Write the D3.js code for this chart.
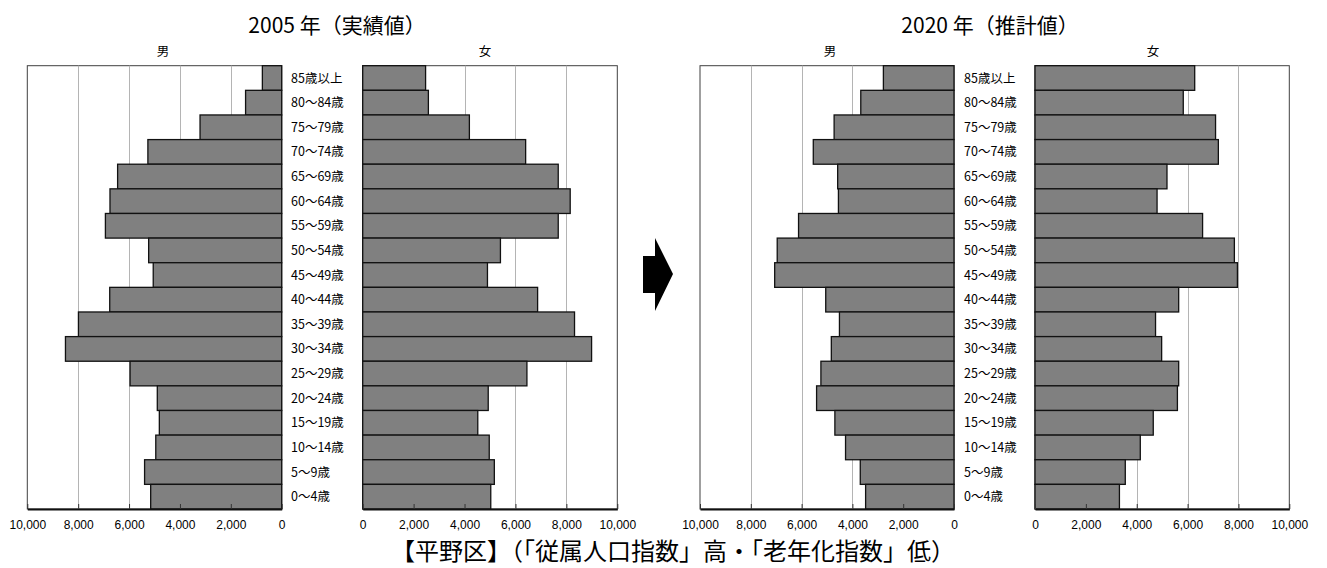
<!DOCTYPE html>
<html>
<head>
<meta charset="utf-8">
<script src="https://cdn.jsdelivr.net/npm/d3@7"></script>
<style>
  html, body { margin: 0; padding: 0; background: #fff; }
  svg { display: block; }
  text { font-family: "Noto Sans CJK JP", "Noto Sans", sans-serif; fill: #000; }
</style>
</head>
<body>
<svg id="chart" width="1327" height="568"></svg>
<script>
// Age groups, oldest at the top
const ageGroups = ["85歳以上","80～84歳","75～79歳","70～74歳","65～69歳","60～64歳",
  "55～59歳","50～54歳","45～49歳","40～44歳","35～39歳","30～34歳","25～29歳",
  "20～24歳","15～19歳","10～14歳","5～9歳","0～4歳"];

// 2005 actual population (persons)
const male2005   = [760,1420,3210,5260,6450,6750,6930,5230,5050,6760,7990,8500,5960,4890,4810,4950,5390,5150];
const female2005 = [2470,2580,4190,6400,7680,8150,7680,5410,4900,6870,8320,8990,6450,4930,4520,4970,5170,5030];

// 2020 projected population (persons)
const male2020   = [2780,3670,4720,5540,4580,4550,6120,6960,7060,5050,4510,4830,5240,5410,4690,4270,3690,3480];
const female2020 = [6280,5830,7100,7210,5190,4800,6590,7840,7960,5650,4740,4980,5650,5600,4650,4140,3550,3320];

const axisTicks = [0,2000,4000,6000,8000,10000];
const axisMax = 10000;

const titles = ["2005 年（実績値）", "2020 年（推計値）"];
const sexLabels = ["男", "女"];
const caption = "【平野区】（「従属人口指数」高・「老年化指数」低）";

const svg = d3.select("#chart");
const plotTop = 65.7, plotBottom = 509;

const y = d3.scaleBand().domain(ageGroups).range([plotTop, plotBottom]).padding(0);

function panel(values, left, right, mirrored) {
  const x = d3.scaleLinear().domain([0, axisMax])
    .range(mirrored ? [right, left] : [left, right]);
  const g = svg.append("g");

  // background frame
  g.append("rect").attr("x", left).attr("y", plotTop)
    .attr("width", right - left).attr("height", plotBottom - plotTop)
    .attr("fill", "#fff").attr("stroke", "#404040").attr("stroke-width", 1);

  // vertical gridlines
  g.selectAll("line.grid").data(axisTicks.filter(t => t > 0 && t < axisMax))
    .join("line").attr("class", "grid")
    .attr("x1", d => Math.round(x(d)) + 0.5).attr("x2", d => Math.round(x(d)) + 0.5)
    .attr("y1", plotTop).attr("y2", plotBottom)
    .attr("stroke", "#b4b4b4").attr("stroke-width", 1);

  // bars
  g.selectAll("rect.bar").data(values.map((v, i) => ({ v, age: ageGroups[i] })))
    .join("rect").attr("class", "bar")
    .attr("x", d => Math.min(x(0), x(d.v)))
    .attr("width", d => Math.abs(x(d.v) - x(0)))
    .attr("y", d => y(d.age))
    .attr("height", y.bandwidth())
    .attr("fill", "#808080").attr("stroke", "#111").attr("stroke-width", 1.3);

  // bottom axis with short inward ticks
  const axis = d3.axisBottom(x).tickValues(axisTicks).tickFormat(d3.format(","))
    .tickSizeInner(-5).tickSizeOuter(0).tickPadding(11);
  const ag = g.append("g").attr("transform", `translate(0,${plotBottom})`).call(axis);
  ag.select(".domain").attr("stroke", "#111").attr("stroke-width", 2);
  ag.selectAll(".tick line").attr("stroke", "#333");
  ag.selectAll(".tick text")
    .style("font-family", "'Liberation Sans', Arial, sans-serif")
    .style("font-size", "12px").attr("fill", "#000");
  return x;
}

function ageLabels(xPos) {
  svg.append("g").selectAll("text").data(ageGroups).join("text")
    .attr("x", xPos).attr("y", d => y(d) + y.bandwidth() / 2)
    .attr("dy", "0.36em")
    .style("font-size", "12.5px")
    .text(d => d);
}

// 2005 pyramid
panel(male2005, 27.3, 281.7, true);
panel(female2005, 362.7, 617.3, false);
ageLabels(291);

// 2020 pyramid
panel(male2020, 700, 954, true);
panel(female2020, 1035, 1289.3, false);
ageLabels(964);

// titles
const titleData = [{ t: titles[0], x: 337 }, { t: titles[1], x: 990 }];
svg.selectAll("text.title").data(titleData).join("text").attr("class", "title")
  .attr("x", d => d.x).attr("y", 33).attr("text-anchor", "middle")
  .style("font-size", "21px").text(d => d.t);

const sexData = [
  { t: sexLabels[0], x: 163 }, { t: sexLabels[1], x: 485 },
  { t: sexLabels[0], x: 830 }, { t: sexLabels[1], x: 1153 }
];
svg.selectAll("text.sex").data(sexData).join("text").attr("class", "sex")
  .attr("x", d => d.x).attr("y", 56).attr("text-anchor", "middle")
  .style("font-size", "12.5px").text(d => d.t);

// arrow between the two pyramids
const arrowPts = [[643,256],[655,256],[655,238],[673,274],[655,311],[655,293],[643,293]];
svg.append("path").attr("d", d3.line()(arrowPts) + "Z").attr("fill", "#000");

// caption
svg.append("text").attr("x", 673).attr("y", 560).attr("text-anchor", "middle")
  .style("font-size", "24px").text(caption);
</script>
</body>
</html>
